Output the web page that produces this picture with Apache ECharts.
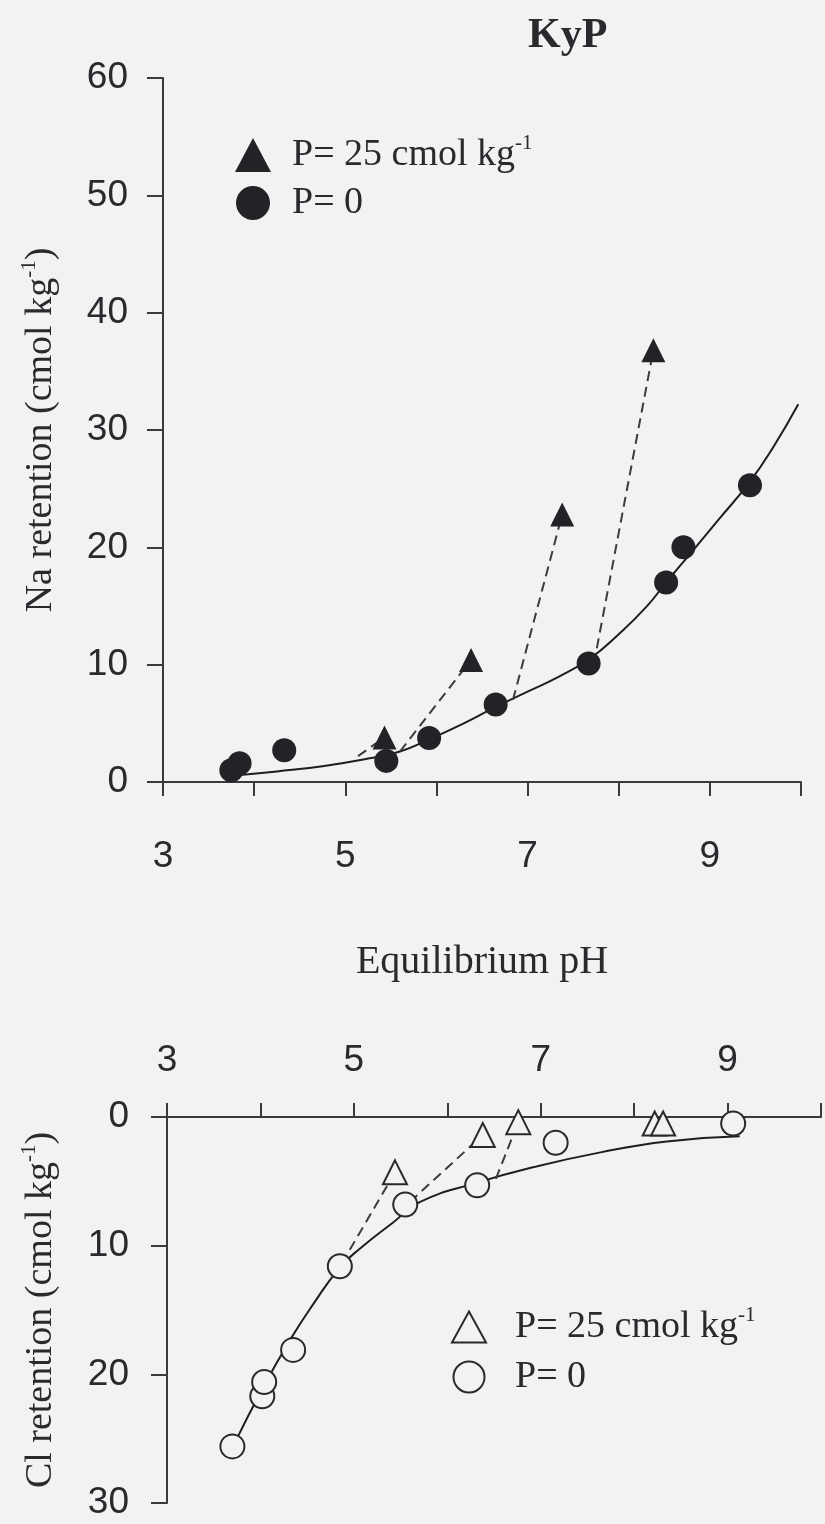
<!DOCTYPE html>
<html>
<head>
<meta charset="utf-8">
<title>KyP</title>
<script src="https://cdn.jsdelivr.net/npm/echarts@6/dist/echarts.min.js"></script>
<style>
html, body { margin: 0; padding: 0; background: #f3f1f2; }
#chart { width: 825px; height: 1524px; }
</style>
</head>
<body>
<div id="chart"></div>
<script>
// pH labels shown on both x axes (ticks every 1 from 3 to 10)
const phLabels = [3, 5, 7, 9];

// top panel: Na retention (cmol kg-1) vs equilibrium pH
const naP25 = [[5.43, 3.8], [6.38, 10.4], [7.38, 22.8], [8.38, 36.8]];
const naP0 = [[3.75, 1.0], [3.84, 1.6], [4.33, 2.7], [5.45, 1.8], [5.92, 3.75],
    [6.65, 6.6], [7.67, 10.1], [8.52, 17.0], [8.71, 20.0], [9.44, 25.3]];
// where each dashed line leaves the P=0 curve (goes to the matching P=25 point)
const naLinkFrom = [[5.14, 2.2], [5.6, 2.6], [6.84, 7.0], [7.76, 11.4]];
const naFit = [[3.85, 0.6], [4.25, 0.9], [4.75, 1.35], [5.25, 2.0], [5.6, 2.6],
    [5.91, 3.6], [6.3, 5.0], [6.65, 6.4], [7.0, 7.7], [7.35, 9.0], [7.68, 10.5],
    [8.0, 12.6], [8.3, 14.9], [8.52, 17.0], [8.8, 19.6], [9.1, 22.4], [9.44, 25.6],
    [9.7, 28.6], [9.97, 32.2]];

// bottom panel: Cl retention (cmol kg-1), axis reversed
const clP25 = [[5.44, 4.3], [6.38, 1.4], [6.76, 0.4], [8.22, 0.5], [8.31, 0.5]];
const clP0 = [[3.70, 25.6], [4.02, 21.7], [4.04, 20.6], [4.35, 18.1], [4.85, 11.6],
    [5.55, 6.8], [6.32, 5.3], [7.16, 2.0], [9.06, 0.5]];
const clLinkFrom = [[4.87, 11.4], [5.6, 6.6], [6.52, 4.8]];
const clFit = [[3.72, 25.4], [4.03, 21.0], [4.32, 17.3], [4.56, 14.6], [4.85, 11.7],
    [5.07, 10.2], [5.42, 8.2], [5.71, 6.6], [6.32, 5.1], [6.92, 3.9], [7.64, 2.75],
    [8.35, 1.9], [9.13, 1.5]];

const legendText = {
    naP25: '{t|P= 25 cmol kg}{s|-1}',
    naP0: '{t|P= 0}',
    clP25: '{t|P= 25 cmol kg}{s|-1}',
    clP0: '{t|P= 0}',
};

const serif = "'Liberation Serif', 'Times New Roman', serif";
const sans = "'Liberation Sans', Arial, sans-serif";
const ink = '#232227';
const textInk = '#2a292e';
const bg = '#f3f1f2';

const richText = {
    t: { fontFamily: serif, fontSize: 38, color: textInk, lineHeight: 44 },
    s: { fontFamily: serif, fontSize: 21, color: textInk, lineHeight: 16, verticalAlign: 'top' },
};

const filled = { color: ink, opacity: 1 };
const hollow = { color: bg, borderColor: textInk, borderWidth: 2, opacity: 1 };

function xAxisFor(gridIndex, position, labelMargin, extra) {
    return Object.assign({
        type: 'value',
        gridIndex,
        position,
        min: 3,
        max: 10,
        interval: 1,
        axisLine: { show: true, onZero: false, lineStyle: { color: '#3a3a3a', width: 2 } },
        axisTick: { show: true, length: 14, lineStyle: { color: '#3a3a3a', width: 2 } },
        axisLabel: {
            margin: labelMargin,
            fontFamily: sans,
            fontSize: 37,
            color: textInk,
            formatter: (v) => (phLabels.includes(v) ? String(v) : ''),
        },
        splitLine: { show: false },
    }, extra || {});
}

function yAxisFor(gridIndex, max, inverse, name, gap, labelMargin) {
    return {
        type: 'value',
        gridIndex,
        min: 0,
        max,
        interval: 10,
        inverse,
        name,
        nameLocation: 'middle',
        nameRotate: 90,
        nameGap: gap,
        nameTextStyle: { rich: richText },
        axisLine: { show: true, onZero: false, lineStyle: { color: '#3a3a3a', width: 2 } },
        axisTick: { show: true, length: 16, lineStyle: { color: '#3a3a3a', width: 2 } },
        axisLabel: { margin: labelMargin, fontFamily: sans, fontSize: 37, color: textInk },
        splitLine: { show: false },
    };
}

function fitSeries(data, idx) {
    return {
        type: 'line',
        xAxisIndex: idx,
        yAxisIndex: idx,
        data,
        smooth: 0.5,
        showSymbol: false,
        symbol: 'none',
        lineStyle: { color: '#1e1e1e', width: 2 },
        z: 2,
        silent: true,
    };
}

function linkSeries(from, to, idx) {
    return from.map((p, i) => ({
        type: 'line',
        xAxisIndex: idx,
        yAxisIndex: idx,
        data: [p, to[i]],
        showSymbol: false,
        symbol: 'none',
        lineStyle: { color: '#3c3c3c', width: 2, type: [10, 6] },
        z: 2,
        silent: true,
    }));
}

function pointSeries(name, data, symbol, style, idx) {
    return {
        type: 'scatter',
        name,
        xAxisIndex: idx,
        yAxisIndex: idx,
        data,
        symbol,
        symbolSize: 24,
        itemStyle: style,
        z: 4,
    };
}

const chart = echarts.init(document.getElementById('chart'), null, { renderer: 'canvas' });

chart.setOption({
    backgroundColor: bg,
    animation: false,
    title: {
        text: 'KyP',
        left: 523,
        top: 10,
        textStyle: { fontFamily: serif, fontSize: 42, fontWeight: 'bold', color: textInk },
    },
    legend: [
        {
            orient: 'vertical',
            left: 230,
            top: 128,
            itemWidth: 36,
            itemHeight: 34,
            itemGap: 10,
            selectedMode: false,
            data: [
                { name: 'naP25', icon: 'triangle', itemStyle: filled },
                { name: 'naP0', icon: 'circle', itemStyle: filled },
            ],
            formatter: (n) => legendText[n],
            textStyle: { padding: [0, 0, 0, 16], rich: richText },
        },
        {
            orient: 'vertical',
            left: 446,
            top: 1300,
            itemWidth: 34,
            itemHeight: 31,
            itemGap: 12,
            selectedMode: false,
            data: [
                { name: 'clP25', icon: 'triangle', itemStyle: hollow },
                { name: 'clP0', icon: 'circle', itemStyle: hollow },
            ],
            formatter: (n) => legendText[n],
            textStyle: { padding: [0, 0, 0, 24], rich: richText },
        },
    ],
    grid: [
        { left: 163, right: 24, top: 78, height: 704, containLabel: false, outerBoundsMode: 'none' },
        { left: 167, right: 4, top: 1117, height: 386, containLabel: false, outerBoundsMode: 'none' },
    ],
    xAxis: [
        xAxisFor(0, 'bottom', 56, {
            name: 'Equilibrium pH',
            nameLocation: 'middle',
            nameGap: 160,
            nameTextStyle: { fontFamily: serif, fontSize: 40, color: textInk },
        }),
        xAxisFor(1, 'top', 38),
    ],
    yAxis: [
        yAxisFor(0, 60, false, '{t|Na retention (cmol kg}{s|-1}{t|)}', 100, 35),
        yAxisFor(1, 30, true, '{t|Cl retention (cmol kg}{s|-1}{t|)}', 104, 38),
    ],
    series: [
        fitSeries(naFit, 0),
        ...linkSeries(naLinkFrom, naP25, 0),
        pointSeries('naP25', naP25, 'triangle', filled, 0),
        pointSeries('naP0', naP0, 'circle', filled, 0),
        fitSeries(clFit, 1),
        ...linkSeries(clLinkFrom, clP25, 1),
        pointSeries('clP25', clP25, 'triangle', hollow, 1),
        pointSeries('clP0', clP0, 'circle', hollow, 1),
    ],
});
</script>
</body>
</html>
